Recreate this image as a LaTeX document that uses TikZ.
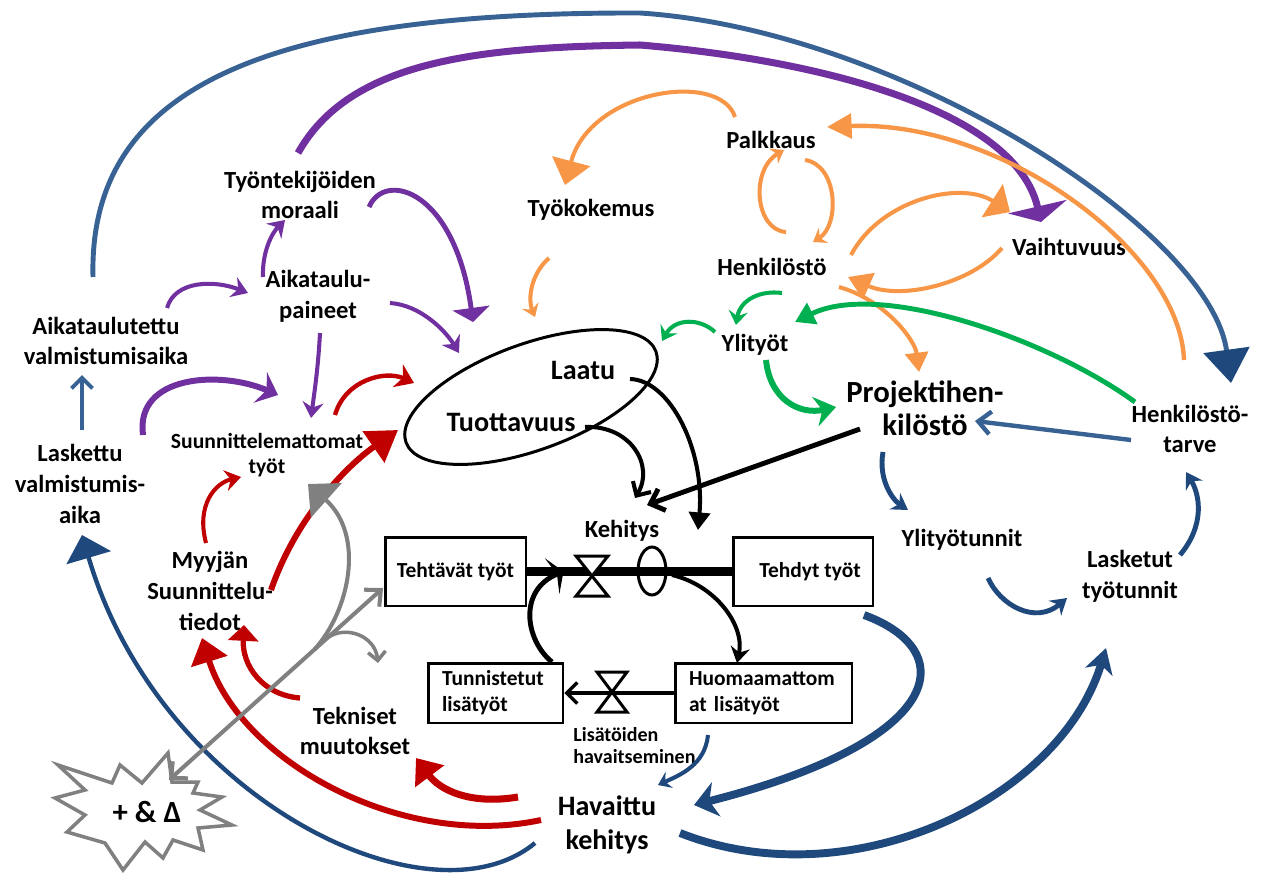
\documentclass[tikz,border=0pt]{standalone}
\usepackage{fontspec}
\setmainfont{Carlito}
\usetikzlibrary{arrows.meta,shapes.geometric,calc}
\definecolor{cPurple}{RGB}{112,48,160}
\definecolor{cRed}{RGB}{192,0,0}
\definecolor{cOrange}{RGB}{247,150,70}
\definecolor{cGreen}{RGB}{0,176,80}
\definecolor{cBlue}{RGB}{56,98,148}
\definecolor{cNavy}{RGB}{31,73,125}
\definecolor{cGray}{RGB}{128,128,128}
\begin{document}
\begin{tikzpicture}[x=0.02cm,y=-0.02cm,
  t14/.style={font=\fontsize{14}{17.5}\selectfont\bfseries,align=center,inner sep=0pt},
  t16/.style={font=\fontsize{16}{19.3}\selectfont\bfseries,align=center,inner sep=0pt},
  t18/.style={font=\fontsize{17.5}{18.7}\selectfont\bfseries,align=center,inner sep=0pt},
  t12/.style={font=\fontsize{12.3}{14.2}\selectfont\bfseries,align=center,inner sep=0pt},
  t11/.style={font=\fontsize{11.4}{12.5}\selectfont\bfseries,align=left,inner sep=0pt},
  stock/.style={draw,line width=1.7pt,inner sep=0pt,font=\fontsize{12.2}{14.7}\selectfont\bfseries},
  valve/.style={draw,line width=1.7pt,fill=white}
]
\useasboundingbox (0,0) rectangle (1267,882);

% star
\draw[cGray,line width=2pt,fill=white] (58,765) -- (112,783) -- (120,765) -- (142,783) -- (168,753) -- (172,782) -- (198,782) -- (193,793) -- (222,797) -- (200,810) -- (232,825) -- (198,828) -- (203,850) -- (173,840) -- (163,858) -- (145,842) -- (123,870) -- (105,843) -- (67,832) -- (85,815) -- (55,798) -- (85,790) -- cycle;
\node[t18] (starT) at (147,812) {+ \& Δ};

% ellipse
\node[draw,ellipse,line width=1.7pt,minimum width=5.32cm,minimum height=2.12cm,rotate=20,inner sep=0pt] (ell) at (531,397) {};

% stocks
\node[stock,minimum width=2.82cm,minimum height=1.38cm] (teht) at (455.5,571.5) {Tehtävät työt};
\node[stock,minimum width=2.8cm,minimum height=1.38cm] (tehd) at (803,571.5) {\hspace*{0.28cm}Tehdyt työt};
\node[stock,text width=2.14cm,inner xsep=0.28cm,minimum height=1.2cm,align=left] (tunn) at (495.5,693) {Tunnistetut\\lisätyöt};
\node[stock,text width=2.98cm,inner xsep=0.28cm,minimum height=1.2cm,align=left] (huom) at (763.5,693) {Huomaamattom\\at lisätyöt};

% pipes and valves
\draw[line width=4.7pt] (teht.east) -- (tehd.west);
\node[draw,ellipse,line width=1.7pt,minimum width=0.56cm,minimum height=0.96cm,inner sep=0pt] (sme) at (652,571) {};
\coordinate (v1) at (592,576);
\draw[valve] (v1) ++(-16,-20) -- ++(32,0) -- ++(-32,40) -- ++(32,0) -- cycle;
\draw[line width=1.9pt,-{Straight Barb[length=6pt,width=12pt]}] (huom.west) -- (tunn.east);
\coordinate (v2) at (612,692);
\draw[valve] (v2) ++(-15,-20) -- ++(30,0) -- ++(-30,40) -- ++(30,0) -- cycle;

% text nodes
\node[t14] (tyon) at (300,195) {Työntekijöiden\\moraali};
\node[t14] (aikp) at (318,296) {Aikataulu-\\paineet};
\node[t14] (aikv) at (106,341) {Aikataulutettu\\valmistumisaika};
\node[t14] (lask) at (80,484) {Laskettu\\valmistumis-\\aika};
\node[t12] (suun) at (267,455) {Suunnittelemattomat\\työt};
\node[t14] (myyj) at (210,591) {Myyjän\\Suunnittelu-\\tiedot};
\node[t14] (tekn) at (355,731) {Tekniset\\muutokset};
\node[t16] (hav) at (607,825) {Havaittu\\kehitys};
\node[t11,anchor=west] (lisa) at (573,746) {Lisätöiden\\havaitseminen};
\node[t14] (keh) at (622,531) {Kehitys};
\node[t16] (laatu) at (583,370) {Laatu};
\node[t16] (tuott) at (511,422) {Tuottavuus};
\node[t14] (palk) at (771,140) {Palkkaus};
\node[t14] (tyok) at (591,210) {Työkokemus};
\node[t14] (henk) at (772,267) {Henkilöstö};
\node[t14] (vaih) at (1069,247) {Vaihtuvuus};
\node[t14] (ylit) at (755,345) {Ylityöt};
\node[t18] (proj) at (925,408) {Projektihen-\\kilöstö};
\node[t14] (htar) at (1190,429) {Henkilöstö-\\tarve};
\node[t14] (ylitt) at (962,540) {Ylityötunnit};
\node[t14] (lasT) at (1130,576) {Lasketut\\työtunnit};

% purple
\draw[cPurple,line width=4pt,-{Triangle[length=9pt,width=34pt]}] ($(tyon)+(-2,-42)$) .. controls (350,60) and (480,47) .. (640,45) .. controls (820,60) and (1015,110) .. ($(vaih)+(-28,-25)$);
\draw[cPurple,line width=2.8pt,-{Triangle[length=8pt,width=21pt]}] ($(tyon)+(69,12)$) .. controls (385,170) and (455,190) .. ($(ell)+(-58,-75)$);
\draw[cPurple,line width=2.3pt,-{Stealth[length=9pt,width=12pt,inset=3pt]}] ($(aikp)+(-55,-19)$) .. controls (262,252) and (272,233) .. ($(tyon)+(-15,25)$);
\draw[cPurple,line width=2.3pt,-{Stealth[length=9pt,width=12pt,inset=3pt]}] ($(aikv)+(61,-33)$) .. controls (175,280) and (215,280) .. ($(aikp)+(-70,-3)$);
\draw[cPurple,line width=2.3pt,-{Stealth[length=9pt,width=12pt,inset=3pt]}] ($(aikp)+(72,7)$) .. controls (420,305) and (445,330) .. ($(ell)+(-72,-44)$);
\draw[cPurple,line width=2.3pt,-{Stealth[length=9pt,width=12pt,inset=3pt]}] ($(aikp)+(2,37)$) .. controls (318,370) and (314,395) .. ($(suun)+(44,-37)$);
\draw[cPurple,line width=3.4pt,-{Stealth[length=11pt,width=19pt,inset=4pt]}] ($(lask)+(63,-49)$) .. controls (135,375) and (220,370) .. ($(suun)+(11,-60)$);

% blue big
\draw[cBlue,line width=2.8pt,-{Triangle[length=19pt,width=26pt,color=cNavy]}] ($(aikv)+(-13,-64)$) .. controls (88,80) and (280,12) .. (640,13) .. controls (900,30) and (1210,230) .. ($(htar)+(41,-46)$);
\draw[cBlue,line width=2.3pt,-{Straight Barb[length=6pt,width=12pt]}] ($(lask)+(2,-54)$) -- ($(aikv)+(-24,34)$);
\draw[cNavy,line width=2.5pt,-{Triangle[length=13.5pt,width=26pt]}] ($(hav)+(-72,18)$) .. controls (430,930) and (160,800) .. ($(lask)+(2,51)$);

% red
\draw[cRed,line width=2.5pt,-{Stealth[length=10pt,width=14pt,inset=3pt]}] ($(suun)+(68,-40)$) .. controls (345,380) and (385,370) .. ($(ell)+(-117,-14)$);
\draw[cRed,line width=3.4pt,-{Triangle[length=17pt,width=21pt]}] ($(myyj)+(61,-1)$) .. controls (298,512) and (352,462) .. ($(ell)+(-133,33)$);
\draw[cRed,line width=2.3pt,-{Stealth[length=9pt,width=12pt,inset=3pt]}] ($(myyj)+(-4,-48)$) .. controls (196,505) and (215,483) .. ($(suun)+(-26,22)$);
\draw[cRed,line width=3pt,-{Triangle[length=9pt,width=17pt]}] ($(tekn)+(-55,-33)$) .. controls (262,695) and (242,665) .. ($(myyj)+(34,34)$);
\draw[cRed,line width=3.4pt,-{Triangle[length=14pt,width=21pt]}] ($(hav)+(-66,-5)$) .. controls (400,850) and (240,760) .. ($(myyj)+(-8,47)$);
\draw[cRed,line width=4pt,-{Triangle[length=13pt,width=20pt]}] ($(hav)+(-89,-28)$) .. controls (470,805) and (440,790) .. ($(tekn)+(61,27)$);

% gray
\draw[cGray,line width=2.3pt,{Straight Barb[length=7pt,width=13pt]}-{Straight Barb[length=7pt,width=13pt]}] ($(starT)+(22,-32)$) -- coordinate[pos=0.68] (g2s) coordinate[pos=0.74] (g3s) ($(teht)+(-72.5,16.5)$);
\draw[cGray,line width=2.3pt,-{Triangle[length=14pt,width=26pt]}] (g2s) .. controls (350,610) and (365,535) .. ($(suun)+(41,29)$);
\coordinate (g3e) at (378,663);
\draw[cGray,line width=2pt,-{Straight Barb[length=5pt,width=10pt]}] (g3s) .. controls (345,625) and (375,635) .. (g3e);

% blue / navy
\draw[cNavy,line width=4.5pt,-{Stealth[length=13pt,width=20pt,inset=4pt]}] ($(tehd)+(61,43.5)$) .. controls (960,650) and (950,740) .. ($(hav)+(87,-20)$);
\draw[cNavy,line width=4.5pt,-{Stealth[length=14pt,width=16pt,inset=4pt]}] ($(hav)+(73,8)$) .. controls (850,900) and (1060,800) .. ($(lasT)+(-24,72)$);
\draw[cNavy,line width=2.3pt,-{Stealth[length=7pt,width=10pt,inset=2.5pt]}] ($(huom)+(-55.5,42)$) .. controls (705,765) and (680,775) .. ($(hav)+(51,-40)$);
\draw[cNavy,line width=2.8pt,-{Stealth[length=9pt,width=11pt,inset=3pt]}] ($(proj)+(-42,44)$) .. controls (878,480) and (893,500) .. ($(ylitt)+(-54,-30)$);
\draw[cNavy,line width=2.8pt,-{Stealth[length=9pt,width=11pt,inset=3pt]}] ($(ylitt)+(26,38)$) .. controls (1000,605) and (1035,625) .. ($(lasT)+(-63,22)$);
\draw[cNavy,line width=2.8pt,-{Stealth[length=9pt,width=11pt,inset=3pt]}] ($(lasT)+(50,-21)$) .. controls (1205,525) and (1200,495) .. ($(htar)+(-4,43)$);
\draw[cBlue,line width=2.5pt,-{Straight Barb[length=7pt,width=13pt]}] ($(htar)+(-59,11)$) -- ($(proj)+(50,13)$);

% black
\draw[line width=2.3pt,-{Straight Barb[length=6pt,width=12pt]}] ($(tuott)+(74,5)$) .. controls (630,425) and (655,465) .. ($(keh)+(13,-33)$);
\draw[line width=2.3pt,-{Triangle[length=10pt,width=12pt]}] ($(laatu)+(47,9)$) .. controls (670,380) and (705,450) .. ($(keh)+(76,-1)$);
\draw[line width=2.8pt,-{Straight Barb[length=7pt,width=13pt]}] ($(proj)+(-65,21)$) -- ($(keh)+(25,-26)$);
\draw[line width=2.8pt,-{Stealth[length=7pt,width=22pt,inset=3pt]}] ($(tunn)+(56.5,-31)$) .. controls (525,640) and (518,590) .. ($(teht.east)+(36,0)$);
\draw[line width=2.3pt,-{Stealth[length=9pt,width=11pt,inset=3pt]}] ($(tehd)+(-131,3.5)$) .. controls (715,585) and (745,625) .. ($(huom)+(-26.5,-30)$);

% orange
\draw[cOrange,line width=2.3pt,-{Triangle[length=14pt,width=22pt]}] ($(palk)+(-36,-23)$) .. controls (720,70) and (590,90) .. ($(tyok)+(-26,-25)$);
\draw[cOrange,line width=2.3pt,-{Stealth[length=7pt,width=10pt,inset=2.5pt]}] ($(tyok)+(-42,48)$) .. controls (530,275) and (528,300) .. ($(ell)+(4,-80)$);
\draw[cOrange,line width=2.3pt,-{Stealth[length=7pt,width=10pt,inset=2.5pt]}] ($(henk)+(14,-35)$) .. controls (755,230) and (750,170) .. ($(palk)+(13,10)$);
\draw[cOrange,line width=2.3pt,-{Stealth[length=7pt,width=10pt,inset=2.5pt]}] ($(palk)+(34,20)$) .. controls (838,165) and (840,225) .. ($(henk)+(41,-25)$);
\draw[cOrange,line width=2.3pt,-{Triangle[length=12pt,width=22pt]}] ($(henk)+(79,-12)$) .. controls (880,200) and (960,180) .. ($(vaih)+(-59,-35)$);
\draw[cOrange,line width=2.3pt,-{Triangle[length=13pt,width=16pt]}] ($(vaih)+(-67,1)$) .. controls (970,285) and (900,300) .. ($(henk)+(76,10)$);
\draw[cOrange,line width=2.5pt,-{Triangle[length=14pt,width=14pt]}] ($(htar)+(-6,-69)$) .. controls (1180,250) and (1000,120) .. ($(palk)+(56,-13)$);
\draw[cOrange,line width=2.3pt,-{Triangle[length=11pt,width=13pt]}] ($(henk)+(67,20)$) .. controls (885,300) and (915,340) .. ($(proj)+(-6,-36)$);

% green
\draw[cGreen,line width=2.3pt,-{Stealth[length=8pt,width=11pt,inset=3pt]}] ($(henk)+(10,26)$) .. controls (760,290) and (740,300) .. ($(ylit)+(-19,-20)$);
\draw[cGreen,line width=2.3pt,-{Stealth[length=8pt,width=11pt,inset=3pt]}] ($(ylit)+(-40,-13)$) .. controls (700,318) and (675,318) .. ($(ell)+(131,-56)$);
\draw[cGreen,line width=3.4pt,-{Stealth[length=12pt,width=17pt,inset=4pt]}] ($(ylit)+(11,15)$) .. controls (770,400) and (800,415) .. ($(proj)+(-89,-1)$);
\draw[cGreen,line width=2.8pt,-{Triangle[length=11pt,width=13pt]}] ($(htar)+(-55,-27)$) .. controls (1050,340) and (880,280) .. ($(ylit)+(40,-23)$);
\end{tikzpicture}
\end{document}
